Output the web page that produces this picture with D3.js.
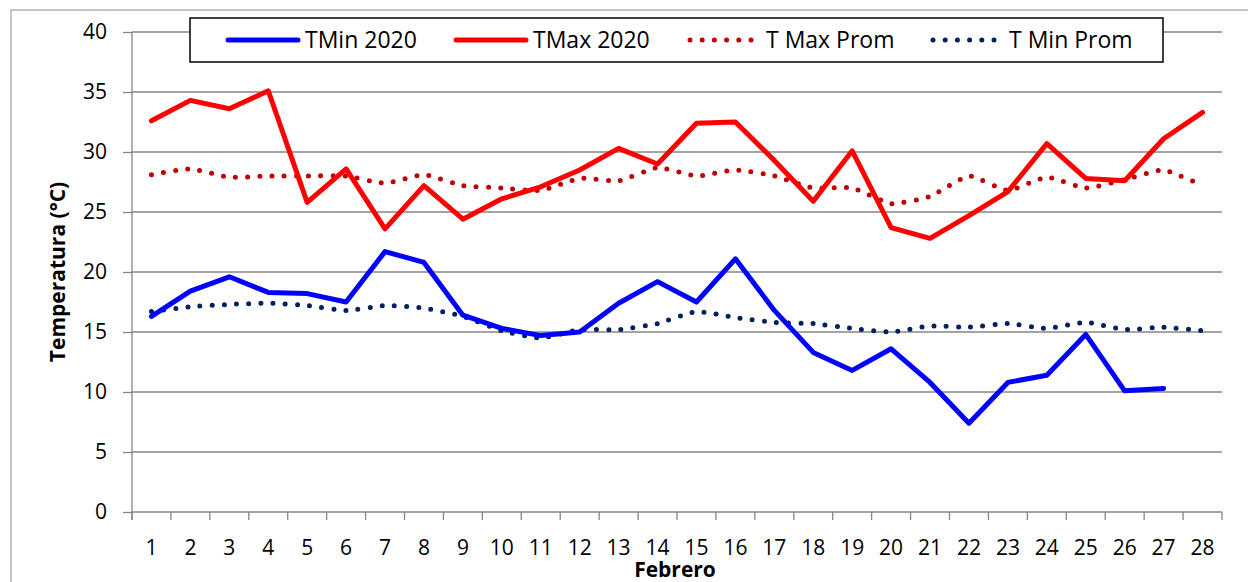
<!DOCTYPE html>
<html>
<head>
<meta charset="utf-8">
<script src="https://cdn.jsdelivr.net/npm/d3@7"></script>
<style>
  body { margin: 0; background: #fff; }
  svg { display: block; font-family: "Open Sans", sans-serif; }
</style>
</head>
<body>
<svg id="chart" width="1248" height="582"></svg>
<script>
var days = d3.range(1, 29);
var tMin2020 = [16.3, 18.4, 19.6, 18.3, 18.2, 17.5, 21.7, 20.8, 16.4, 15.3, 14.7, 15.0, 17.4, 19.2,
                17.5, 21.1, 16.8, 13.3, 11.8, 13.6, 10.8, 7.4, 10.8, 11.4, 14.8, 10.1, 10.3, null];
var tMax2020 = [32.6, 34.3, 33.6, 35.1, 25.8, 28.6, 23.6, 27.2, 24.4, 26.1, 27.1, 28.5, 30.3, 29.0,
                32.4, 32.5, 29.3, 25.9, 30.1, 23.7, 22.8, 24.7, 26.7, 30.7, 27.8, 27.6, 31.1, 33.3];
var tMaxProm = [28.1, 28.6, 27.9, 28.0, 28.0, 28.0, 27.4, 28.1, 27.2, 27.0, 26.8, 27.8, 27.6, 28.7,
                28.0, 28.5, 28.0, 27.0, 27.0, 25.7, 26.3, 28.0, 26.8, 27.9, 27.0, 27.7, 28.5, 27.2];
var tMinProm = [16.7, 17.1, 17.3, 17.4, 17.2, 16.8, 17.2, 17.0, 16.3, 15.1, 14.5, 15.2, 15.2, 15.7,
                16.7, 16.2, 15.8, 15.7, 15.3, 15.0, 15.5, 15.4, 15.7, 15.3, 15.8, 15.2, 15.4, 15.1];
var yTicks = [0, 5, 10, 15, 20, 25, 30, 35, 40];

var series = [
  { name: "TMin 2020", values: tMin2020, color: "#0000ff", dotted: false },
  { name: "TMax 2020", values: tMax2020, color: "#ff0000", dotted: false },
  { name: "T Max Prom", values: tMaxProm, color: "#c00000", dotted: true },
  { name: "T Min Prom", values: tMinProm, color: "#002060", dotted: true }
];

var svg = d3.select("#chart");
var plotLeft = 132, plotRight = 1222, plotTop = 32, plotBottom = 512;

var x = d3.scaleBand().domain(days).range([plotLeft, plotRight]);
var y = d3.scaleLinear().domain([0, 40]).range([plotBottom, plotTop]);
var gridColor = "#868686";

// outer chart border
svg.append("rect")
    .attr("x", 11).attr("y", 10)
    .attr("width", 1260).attr("height", 600)
    .attr("fill", "none")
    .attr("stroke", "#a6a6a6")
    .attr("stroke-width", 1.3);

// horizontal gridlines
svg.append("g")
    .selectAll("line")
    .data(yTicks.filter(function(d) { return d > 0; }))
    .enter().append("line")
    .attr("x1", plotLeft).attr("x2", plotRight)
    .attr("y1", function(d) { return y(d); })
    .attr("y2", function(d) { return y(d); })
    .attr("stroke", gridColor)
    .attr("stroke-width", 1.3);

// y axis
var yAxis = svg.append("g")
    .attr("transform", "translate(" + plotLeft + ",0)")
    .call(d3.axisLeft(y).tickValues(yTicks).tickSize(9).tickPadding(16));
yAxis.select(".domain").attr("stroke", gridColor).attr("stroke-width", 1.3)
    .attr("d", "M0," + plotTop + "V" + (plotBottom + 8));
yAxis.selectAll(".tick line").attr("stroke", gridColor).attr("stroke-width", 1.3);
yAxis.selectAll(".tick text")
    .attr("font-size", 21).attr("fill", "#000")
    .attr("font-family", "Open Sans");

// x axis
var xAxis = svg.append("g")
    .attr("transform", "translate(0," + plotBottom + ")")
    .call(d3.axisBottom(x).tickSize(0).tickPadding(30));
xAxis.select(".domain").attr("stroke", gridColor).attr("stroke-width", 1.3)
    .attr("d", "M" + plotLeft + ",0H" + plotRight);
xAxis.selectAll(".tick text")
    .attr("font-size", 21).attr("fill", "#000")
    .attr("font-family", "Open Sans")
    .attr("dy", 0)
    .attr("y", 43);
svg.append("g")
    .selectAll("line")
    .data(days.concat([29]))
    .enter().append("line")
    .attr("x1", function(d) { return d === 29 ? plotRight : x(d); })
    .attr("x2", function(d) { return d === 29 ? plotRight : x(d); })
    .attr("y1", plotBottom).attr("y2", plotBottom + 8)
    .attr("stroke", gridColor)
    .attr("stroke-width", 1.3);

// axis titles
svg.append("text")
    .attr("transform", "translate(65,272) rotate(-90)")
    .attr("text-anchor", "middle")
    .attr("font-size", 21).attr("font-weight", "bold")
    .text("Temperatura (°C)");
svg.append("text")
    .attr("x", 675).attr("y", 577)
    .attr("text-anchor", "middle")
    .attr("font-size", 21).attr("font-weight", "bold")
    .text("Febrero");

// lines
var straight = d3.line()
    .defined(function(d) { return d != null; })
    .x(function(d, i) { return x(days[i]) + x.bandwidth() / 2; })
    .y(function(d) { return y(d); });
var smooth = d3.line()
    .defined(function(d) { return d != null; })
    .curve(d3.curveCardinal.tension(0.5))
    .x(function(d, i) { return x(days[i]) + x.bandwidth() / 2; })
    .y(function(d) { return y(d); });

function styleLine(sel, s) {
  sel.attr("fill", "none")
     .attr("stroke", s.color)
     .attr("stroke-width", 5)
     .attr("stroke-linecap", "round")
     .attr("stroke-linejoin", "round");
  if (s.dotted) sel.attr("stroke-dasharray", "0 12.2");
}

// draw dotted first, then solid lines on top
[2, 3, 0, 1].forEach(function(i) {
  var s = series[i];
  svg.append("path")
      .attr("d", (s.dotted ? smooth : straight)(s.values))
      .call(styleLine, s);
});

// legend
var legend = svg.append("g");
legend.append("rect")
    .attr("x", 190).attr("y", 18)
    .attr("width", 973).attr("height", 44)
    .attr("fill", "#fff")
    .attr("stroke", "#000")
    .attr("stroke-width", 1.5);
var legendX = [228, 456, 690, 933];
series.forEach(function(s, i) {
  var lx = legendX[i];
  var w = s.dotted ? 62 : 70;
  legend.append("path")
      .attr("d", "M" + lx + ",40H" + (lx + w))
      .call(styleLine, s);
  legend.append("text")
      .attr("x", lx + w + (s.dotted ? 14 : 7))
      .attr("y", 48)
      .attr("font-size", 23)
      .text(s.name);
});
</script>
</body>
</html>
